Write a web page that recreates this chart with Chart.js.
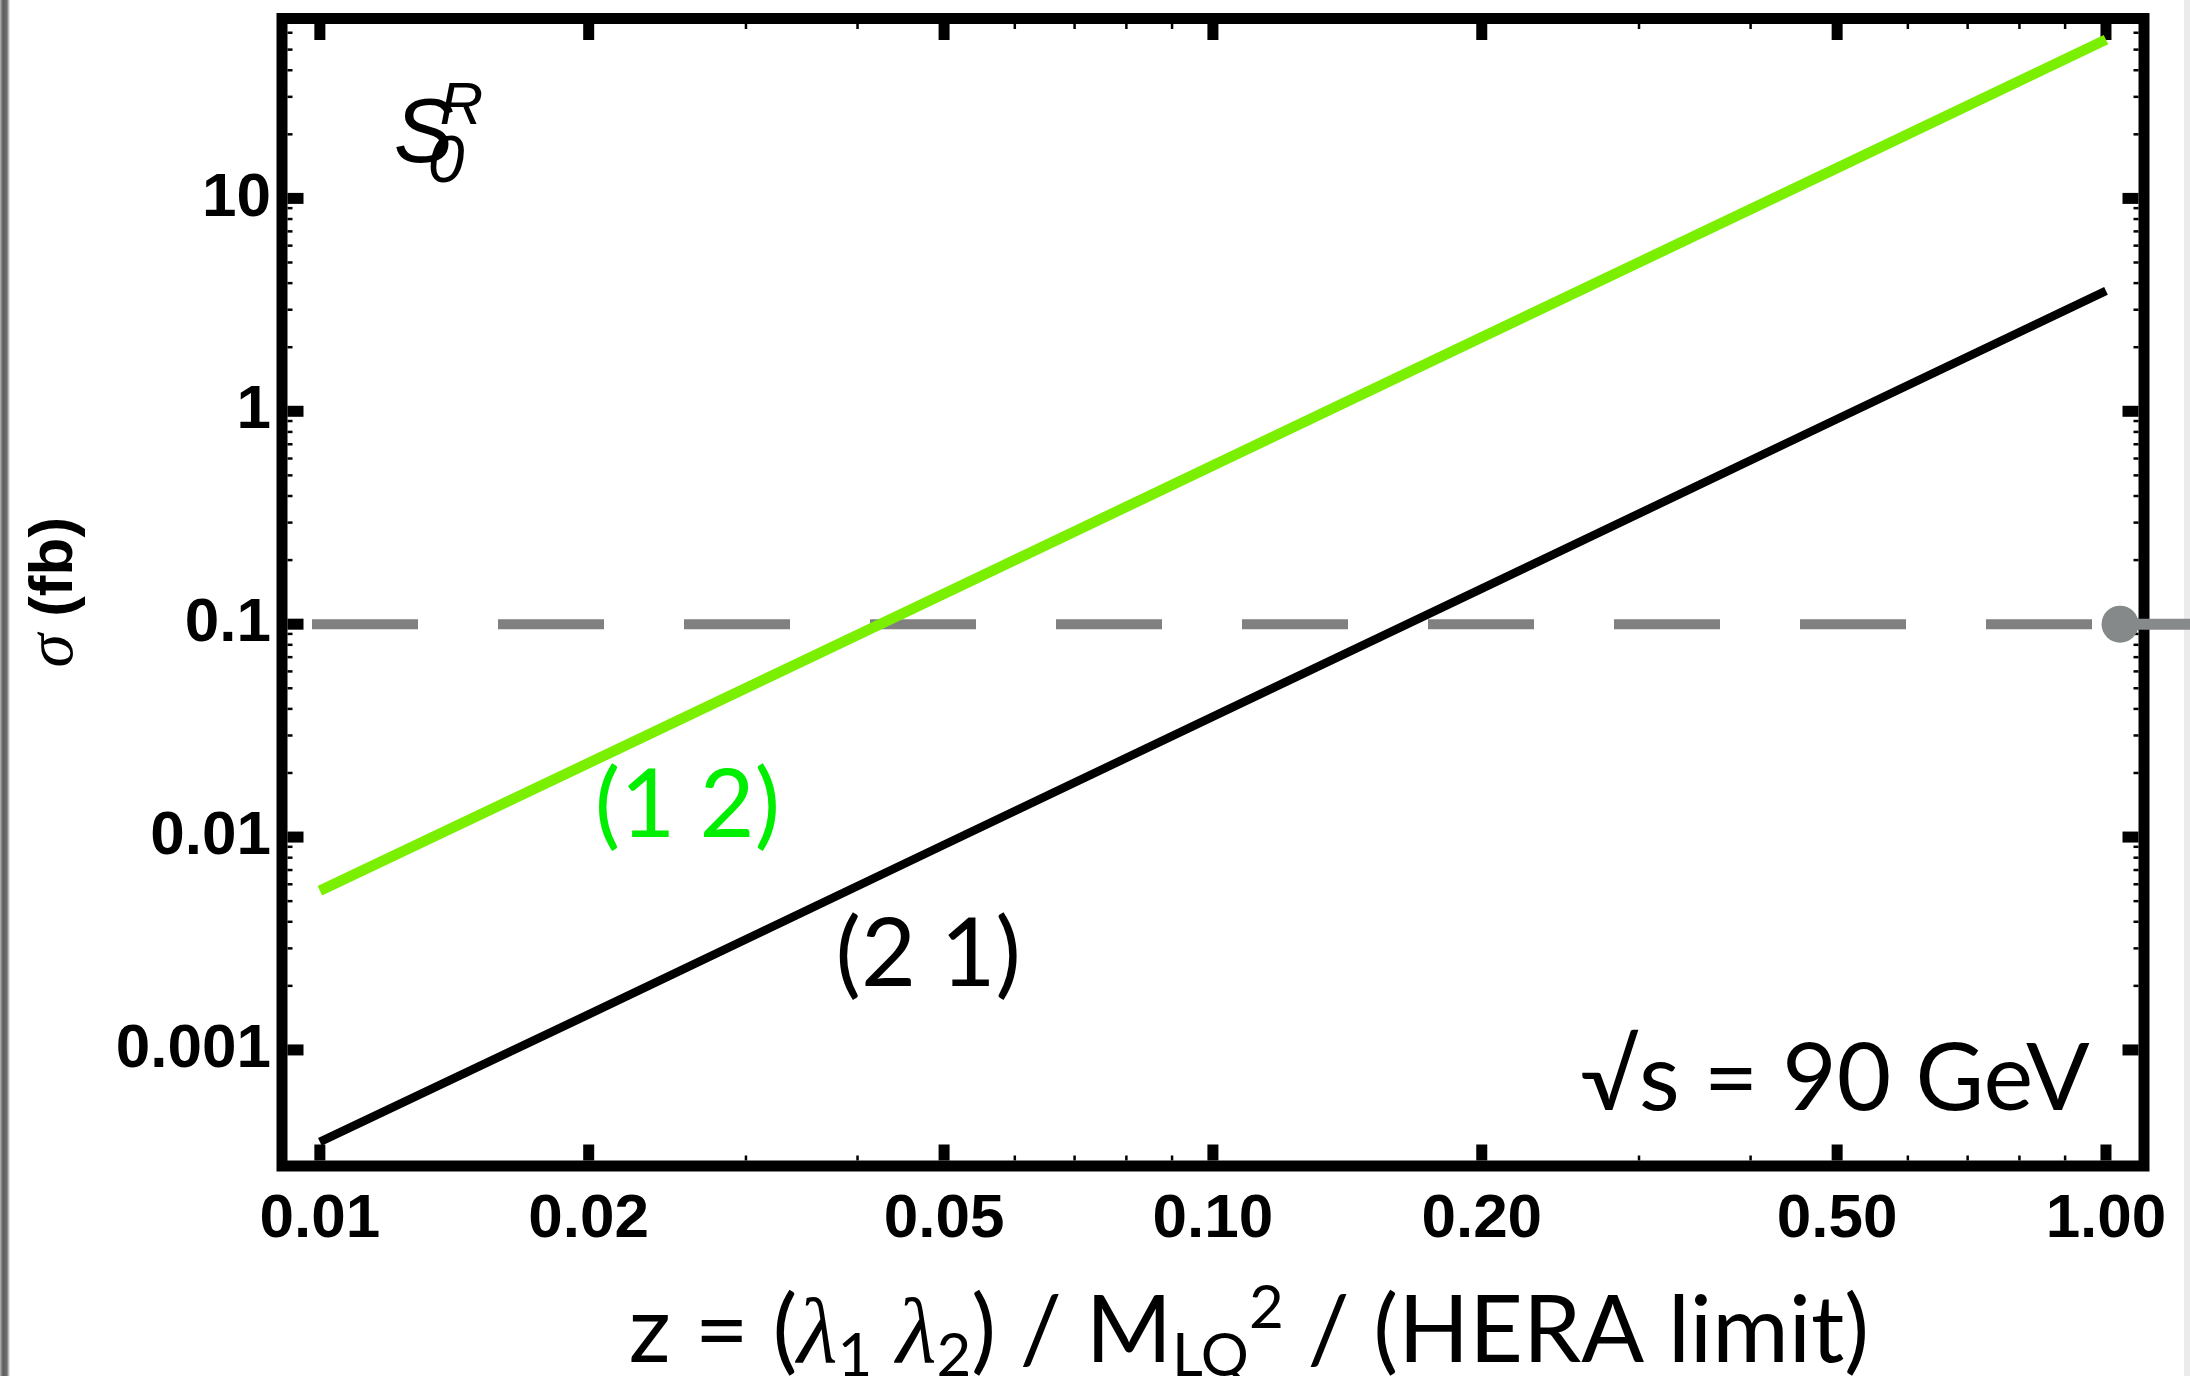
<!DOCTYPE html>
<html>
<head>
<meta charset="utf-8">
<title>S0R cross section vs z</title>
<script src="https://cdn.jsdelivr.net/npm/chart.js@4.4.1/dist/chart.umd.min.js"></script>
<style>
  html, body { margin: 0; padding: 0; background: #fff; }
  canvas { display: block; }
</style>
</head>
<body>
<canvas id="xsec" width="2190" height="1376"></canvas>
<script>
// --- DATA ---
// z = (λ1 λ2) / M_LQ^2 / (HERA limit), cross sections in fb
const zValues = [0.01, 0.02, 0.05, 0.10, 0.20, 0.50, 1.00];
const sigma12 = [0.0056, 0.0223, 0.139, 0.557, 2.23, 13.9, 55.7];
const sigma21 = [0.00037, 0.00147, 0.0092, 0.0368, 0.147, 0.92, 3.68];

// 0.1 fb reference level, ending in a slider handle
const limitZ = [0.0098, 1.037];
const limitSigma = [0.1, 0.1];
const handleZ = [1.037, 1.26];
const handleSigma = [0.1, 0.1];

// --- AXES ---
const xTickValues = [0.01, 0.02, 0.05, 0.1, 0.2, 0.5, 1];
const xTickLabels = ['0.01', '0.02', '0.05', '0.10', '0.20', '0.50', '1.00'];
const xMinorTicks = [0.03, 0.04, 0.06, 0.07, 0.08, 0.09, 0.3, 0.4, 0.6, 0.7, 0.8, 0.9];
const yTickValues = [0.001, 0.01, 0.1, 1, 10];
const yTickLabels = ['0.001', '0.01', '0.1', '1', '10'];

const X_MIN = 0.00907, X_MAX = 1.103;
const Y_MIN = 2.85e-4, Y_MAX = 70;

// minor ticks 2..9 in every labelled decade
const yMinorTicks = [];
yTickValues.forEach(d => {
    for (let m = 2; m <= 9; m++) {
        if (m * d < Y_MAX) yMinorTicks.push(m * d);
    }
});

const toPoints = (xs, ys) => xs.map((x, i) => ({ x, y: ys[i] }));

const SANS = '"Liberation Sans", Arial, sans-serif';
const TEXT = 'Lato, "Noto Sans", sans-serif';
const SERIF = '"Liberation Serif", "DejaVu Serif", serif';

/**
 * Draws a run of text pieces (sub/superscripts, mixed fonts) centred on cx.
 */
const drawRich = (ctx, parts, cx, baseline) => {
    let total = 0;
    parts.forEach(p => { ctx.font = p.font; p.w = ctx.measureText(p.t).width; total += p.w; });
    let xPos = cx - total / 2;
    ctx.textAlign = 'left';
    ctx.textBaseline = 'alphabetic';
    parts.forEach(p => {
        ctx.font = p.font;
        ctx.fillText(p.t, xPos, baseline + (p.dy || 0));
        xPos += p.w;
    });
};

// Frame, inward ticks and all free text
const framePlugin = {
    id: 'frame',
    beforeDraw(chart) {
        const ctx = chart.ctx;
        ctx.save();
        ctx.fillStyle = '#fff';
        ctx.fillRect(0, 0, chart.width, chart.height);
        // window edges
        const g = ctx.createLinearGradient(0, 0, 10, 0);
        g.addColorStop(0, '#b4b4b4');
        g.addColorStop(0.3, '#5c5c5c');
        g.addColorStop(0.7, '#707070');
        g.addColorStop(1, '#ffffff');
        ctx.fillStyle = g;
        ctx.fillRect(0, 0, 10, chart.height);
        ctx.fillStyle = '#ebebeb';
        ctx.fillRect(chart.width - 6, 0, 6, chart.height);
        ctx.restore();
    },
    beforeDatasetsDraw(chart) {
        const { ctx, chartArea: a, scales: { x, y } } = chart;
        const FW = 11, MAJ = 16, MAJW = 11, MIN = 5, MINW = 2.5;
        const inL = a.left + FW / 2, inR = a.right - FW / 2;
        const inT = a.top + FW / 2, inB = a.bottom - FW / 2;
        ctx.save();
        ctx.fillStyle = '#000';
        const tickX = (v, len, w) => {
            const p = x.getPixelForValue(v);
            ctx.fillRect(p - w / 2, inB - len, w, len);
            ctx.fillRect(p - w / 2, inT, w, len);
        };
        const tickY = (v, len, w) => {
            const p = y.getPixelForValue(v);
            ctx.fillRect(inL, p - w / 2, len, w);
            ctx.fillRect(inR - len, p - w / 2, len, w);
        };
        xTickValues.forEach(v => tickX(v, MAJ, MAJW));
        xMinorTicks.forEach(v => tickX(v, MIN, MINW));
        yTickValues.forEach(v => tickY(v, MAJ, MAJW));
        yMinorTicks.forEach(v => tickY(v, MIN, MINW));

        ctx.lineWidth = FW;
        ctx.strokeStyle = '#000';
        ctx.lineJoin = 'miter';
        ctx.strokeRect(a.left, a.top, a.right - a.left, a.bottom - a.top);
        ctx.restore();
    },
    afterDraw(chart) {
        const { ctx, chartArea: a, scales: { x, y } } = chart;
        const px = v => x.getPixelForValue(v);
        const py = v => y.getPixelForValue(v);
        ctx.save();

        // curve labels
        ctx.textBaseline = 'alphabetic';
        ctx.textAlign = 'center';
        ctx.font = '95px ' + TEXT;
        ctx.fillStyle = '#00ee00';
        ctx.fillText('(1 2)', px(0.0258), py(0.01));
        ctx.fillStyle = '#000';
        ctx.fillText('(2 1)', px(0.048), py(0.002));

        // collider energy
        ctx.textAlign = 'right';
        ctx.font = '94px ' + TEXT;
        ctx.fillText('√s = 90 GeV', px(0.959), py(5.2e-4));

        // leptoquark name, S_0^R
        const sx = px(0.0121), sy = py(14.76);
        ctx.textAlign = 'left';
        ctx.font = 'italic 90px ' + SANS;
        ctx.fillText('S', sx, sy);
        ctx.font = 'italic 66px ' + SANS;
        ctx.fillText('0', sx + 34, sy + 20);
        ctx.font = 'italic 60px ' + SANS;
        ctx.fillText('R', sx + 46, sy - 38);

        // x axis title
        const big = '93px ' + TEXT, small = '60px ' + TEXT, lam = 'italic 93px ' + SERIF;
        drawRich(ctx, [
            { t: 'z = (', font: big },
            { t: 'λ', font: lam },
            { t: '1', font: small, dy: 14 },
            { t: ' ', font: big },
            { t: 'λ', font: lam },
            { t: '2', font: small, dy: 14 },
            { t: ') / M', font: big },
            { t: 'LQ', font: small, dy: 14 },
            { t: '2', font: small, dy: -34 },
            { t: ' / (HERA limit)', font: big }
        ], (a.left + a.right) / 2 + 36, a.bottom + 196);

        // y axis title, rotated
        ctx.translate(72, (a.top + a.bottom) / 2);
        ctx.rotate(-Math.PI / 2);
        drawRich(ctx, [
            { t: 'σ', font: 'italic 68px ' + SERIF },
            { t: ' (fb)', font: 'bold 62px ' + SANS }
        ], 0, 0);
        ctx.restore();
    }
};

const tickFont = { family: SANS, size: 62, weight: 'bold', lineHeight: 1.2 };

new Chart(document.getElementById('xsec'), {
    type: 'scatter',
    data: {
        datasets: [
            {
                label: '(1 2)',
                data: toPoints(zValues, sigma12),
                showLine: true,
                borderColor: '#7bef00',
                borderWidth: 10.5,
                pointRadius: 0
            },
            {
                label: '(2 1)',
                data: toPoints(zValues, sigma21),
                showLine: true,
                borderColor: '#000000',
                borderWidth: 8.5,
                pointRadius: 0
            },
            {
                label: '0.1 fb',
                data: toPoints(limitZ, limitSigma),
                showLine: true,
                borderColor: '#808080',
                borderWidth: 10,
                borderDash: [106, 80],
                pointRadius: [0, 18.5],
                pointBackgroundColor: '#858989',
                pointBorderWidth: 0
            },
            {
                label: 'handle',
                data: toPoints(handleZ, handleSigma),
                showLine: true,
                borderColor: '#878a8a',
                borderWidth: 11,
                pointRadius: 0,
                clip: false
            }
        ]
    },
    options: {
        responsive: false,
        devicePixelRatio: 1,
        animation: false,
        events: [],
        layout: { padding: { left: 0, top: 18, right: 46, bottom: 0 } },
        plugins: { legend: { display: false }, tooltip: { enabled: false } },
        scales: {
            x: {
                type: 'logarithmic',
                min: X_MIN,
                max: X_MAX,
                bounds: 'data',
                grid: { display: false, drawTicks: false },
                border: { display: false },
                afterBuildTicks: s => { s.ticks = xTickValues.map(v => ({ value: v })); },
                afterFit: s => { s.height = 210; s.paddingLeft = 0; s.paddingRight = 0; },
                ticks: {
                    autoSkip: false,
                    maxRotation: 0,
                    padding: 17,
                    color: '#000',
                    font: tickFont,
                    callback: (v, i) => xTickLabels[i]
                }
            },
            y: {
                type: 'logarithmic',
                min: Y_MIN,
                max: Y_MAX,
                bounds: 'data',
                grid: { display: false, drawTicks: false },
                border: { display: false },
                afterBuildTicks: s => { s.ticks = yTickValues.map(v => ({ value: v })); },
                afterFit: s => { s.width = 282; s.paddingTop = 0; s.paddingBottom = 0; },
                ticks: {
                    autoSkip: false,
                    padding: 11,
                    color: '#000',
                    font: tickFont,
                    callback: (v, i) => yTickLabels[i]
                }
            }
        }
    },
    plugins: [framePlugin]
});
</script>
</body>
</html>
